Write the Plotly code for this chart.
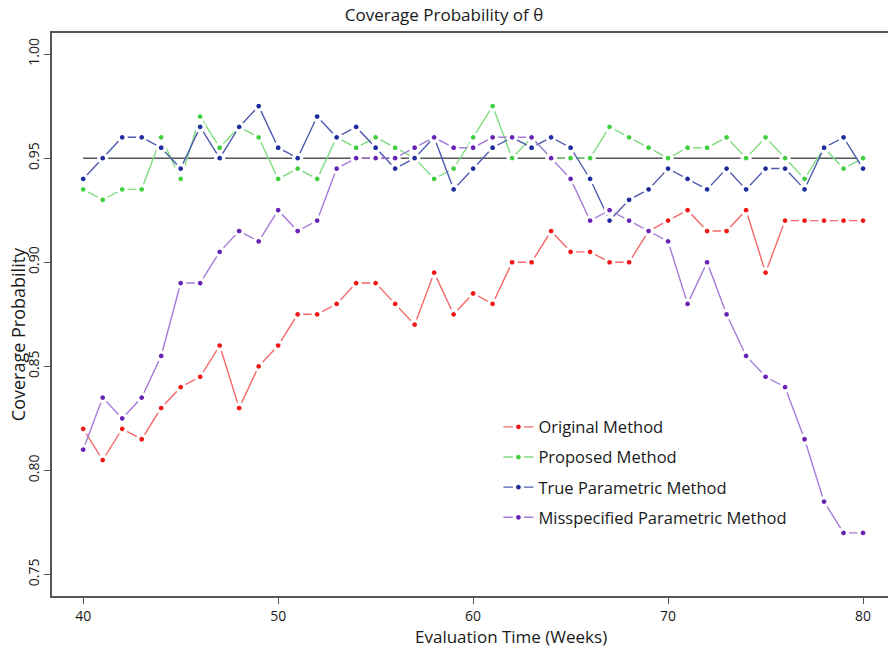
import plotly.graph_objects as go

weeks = list(range(40, 81))

original = [0.82, 0.805, 0.82, 0.815, 0.83, 0.84, 0.845, 0.86, 0.83, 0.85,
            0.86, 0.875, 0.875, 0.88, 0.89, 0.89, 0.88, 0.87, 0.895, 0.875,
            0.885, 0.88, 0.90, 0.90, 0.915, 0.905, 0.905, 0.90, 0.90, 0.915,
            0.92, 0.925, 0.915, 0.915, 0.925, 0.895, 0.92, 0.92, 0.92, 0.92, 0.92]
proposed = [0.935, 0.93, 0.935, 0.935, 0.96, 0.94, 0.97, 0.955, 0.965, 0.96,
            0.94, 0.945, 0.94, 0.96, 0.955, 0.96, 0.955, 0.95, 0.94, 0.945,
            0.96, 0.975, 0.95, 0.96, 0.95, 0.95, 0.95, 0.965, 0.96, 0.955,
            0.95, 0.955, 0.955, 0.96, 0.95, 0.96, 0.95, 0.94, 0.955, 0.945, 0.95]
true_param = [0.94, 0.95, 0.96, 0.96, 0.955, 0.945, 0.965, 0.95, 0.965, 0.975,
              0.955, 0.95, 0.97, 0.96, 0.965, 0.955, 0.945, 0.95, 0.96, 0.935,
              0.945, 0.955, 0.96, 0.955, 0.96, 0.955, 0.94, 0.92, 0.93, 0.935,
              0.945, 0.94, 0.935, 0.945, 0.935, 0.945, 0.945, 0.935, 0.955, 0.96, 0.945]
misspec = [0.81, 0.835, 0.825, 0.835, 0.855, 0.89, 0.89, 0.905, 0.915, 0.91,
           0.925, 0.915, 0.92, 0.945, 0.95, 0.95, 0.95, 0.955, 0.96, 0.955,
           0.955, 0.96, 0.96, 0.96, 0.95, 0.94, 0.92, 0.925, 0.92, 0.915,
           0.91, 0.88, 0.90, 0.875, 0.855, 0.845, 0.84, 0.815, 0.785, 0.77, 0.77]

series_names = ["Original Method", "Proposed Method", "True Parametric Method",
                "Misspecified Parametric Method"]
series_values = [original, proposed, true_param, misspec]
dot_colors = ["#f01818", "#3fcf3f", "#1f2c9c", "#6a22b4"]
line_colors = ["#f46a6a", "#7fdc7f", "#4f5bb0", "#a67ad8"]

target = 0.95
x_ticks = [40, 50, 60, 70, 80]
y_ticks = [0.75, 0.80, 0.85, 0.90, 0.95, 1.00]

FONT = "Open Sans"
TXT = "#1a1a1a"
fig = go.Figure()

for i, (name, vals) in enumerate(zip(series_names, series_values)):
    fig.add_trace(go.Scatter(
        x=weeks, y=vals, name=name, mode="lines+markers",
        legendgroup=f"g{i}",
        line=dict(color=line_colors[i], width=1.4),
        marker=dict(color=dot_colors[i], size=8,
                    line=dict(color="white", width=3.3)),
    ))

fig.add_shape(type="line", xref="x", yref="y", x0=weeks[0], x1=weeks[-1],
              y0=target, y1=target, line=dict(color="#555555", width=1.5),
              layer="below")

fig.update_layout(
    width=888, height=649,
    margin=dict(l=52, r=0, t=33, b=53),
    paper_bgcolor="white", plot_bgcolor="white",
    font=dict(family=FONT, color=TXT),
    showlegend=True,
    legend=dict(x=0.534, y=0.331, xanchor="left", yanchor="top",
                bgcolor="rgba(0,0,0,0)", font=dict(size=16.5, family=FONT, color=TXT),
                tracegroupgap=5.7, itemwidth=30),
    title=dict(text="Coverage Probability of θ", x=0.5, xref="container",
               xanchor="center", y=1 - 15 / 649, yanchor="middle",
               yref="container", font=dict(size=17, family=FONT, color=TXT)),
    xaxis=dict(range=[38.4, 81.28], tickvals=x_ticks, ticks="outside", ticklen=6,
               tickcolor="#555555", showline=True, linecolor="#555555",
               linewidth=1.5, mirror=True, showgrid=False, zeroline=False,
               tickfont=dict(size=14, family=FONT, color=TXT)),
    yaxis=dict(range=[0.7397, 1.0101], tickvals=y_ticks,
               ticktext=[f"{v:.2f}" for v in y_ticks], tickangle=-90,
               ticks="outside", ticklen=6, tickcolor="#555555", showline=True,
               linecolor="#555555", linewidth=1.5, showgrid=False, zeroline=False,
               tickfont=dict(size=14, family=FONT, color=TXT)),
    annotations=[
        dict(text="Evaluation Time (Weeks)", xref="paper", yref="paper",
             x=(511 - 52) / 836, y=-(636 - 595.7) / 562.7, xanchor="center",
             yanchor="middle", showarrow=False,
             font=dict(size=17, family=FONT, color=TXT)),
        dict(text="Coverage Probability", xref="paper", yref="paper",
             x=-(52 - 18) / 836, y=(595.7 - 334) / 562.7, xanchor="center",
             yanchor="middle", textangle=-90, showarrow=False,
             font=dict(size=18, family=FONT, color=TXT)),
    ],
)

fig.write_html("out.html")
